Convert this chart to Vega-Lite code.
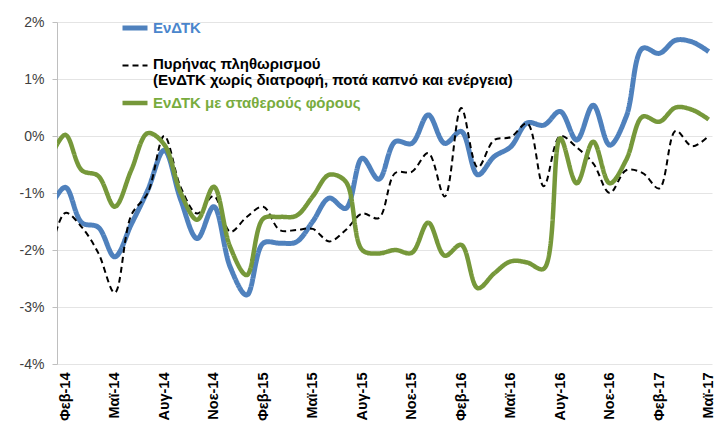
{
  "$schema": "https://vega.github.io/schema/vega-lite/v6.json",
  "width": 655,
  "height": 342,
  "autosize": {"type": "none"},
  "padding": {"left": 57, "top": 22, "right": 8, "bottom": 59},
  "background": "white",
  "config": {
    "view": {"stroke": null},
    "font": "Liberation Sans"
  },
  "data": {
    "values": [
      {"i": -1, "ΕνΔΤΚ": -1.3, "Πυρήνας πληθωρισμού": -2.2, "ΕνΔΤΚ με σταθερούς φόρους": -0.45},
      {"i": 0, "ΕνΔΤΚ": -0.9, "Πυρήνας πληθωρισμού": -1.35, "ΕνΔΤΚ με σταθερούς φόρους": 0.02},
      {"i": 1, "ΕνΔΤΚ": -1.52, "Πυρήνας πληθωρισμού": -1.6, "ΕνΔΤΚ με σταθερούς φόρους": -0.6},
      {"i": 2, "ΕνΔΤΚ": -1.6, "Πυρήνας πληθωρισμού": -2.05, "ΕνΔΤΚ με σταθερούς φόρους": -0.7},
      {"i": 3, "ΕνΔΤΚ": -2.12, "Πυρήνας πληθωρισμού": -2.75, "ΕνΔΤΚ με σταθερούς φόρους": -1.24},
      {"i": 4, "ΕνΔΤΚ": -1.55, "Πυρήνας πληθωρισμού": -1.39, "ΕνΔΤΚ με σταθερούς φόρους": -0.6},
      {"i": 5, "ΕνΔΤΚ": -0.95, "Πυρήνας πληθωρισμού": -1.0, "ΕνΔΤΚ με σταθερούς φόρους": 0.05},
      {"i": 6, "ΕνΔΤΚ": -0.25, "Πυρήνας πληθωρισμού": 0.0, "ΕνΔΤΚ με σταθερούς φόρους": -0.15},
      {"i": 7, "ΕνΔΤΚ": -1.12, "Πυρήνας πληθωρισμού": -0.9, "ΕνΔΤΚ με σταθερούς φόρους": -1.0},
      {"i": 8, "ΕνΔΤΚ": -1.8, "Πυρήνας πληθωρισμού": -1.36, "ΕνΔΤΚ με σταθερούς φόρους": -1.47},
      {"i": 9, "ΕνΔΤΚ": -1.24, "Πυρήνας πληθωρισμού": -1.05, "ΕνΔΤΚ με σταθερούς φόρους": -0.89},
      {"i": 10, "ΕνΔΤΚ": -2.3, "Πυρήνας πληθωρισμού": -1.68, "ΕνΔΤΚ με σταθερούς φόρους": -1.95},
      {"i": 11, "ΕνΔΤΚ": -2.79, "Πυρήνας πληθωρισμού": -1.42, "ΕνΔΤΚ με σταθερούς φόρους": -2.44},
      {"i": 12, "ΕνΔΤΚ": -1.88, "Πυρήνας πληθωρισμού": -1.24, "ΕνΔΤΚ με σταθερούς φόρους": -1.45},
      {"i": 13, "ΕνΔΤΚ": -1.88, "Πυρήνας πληθωρισμού": -1.65, "ΕνΔΤΚ με σταθερούς φόρους": -1.42},
      {"i": 14, "ΕνΔΤΚ": -1.86, "Πυρήνας πληθωρισμού": -1.65, "ΕνΔΤΚ με σταθερούς φόρους": -1.4},
      {"i": 15, "ΕνΔΤΚ": -1.5, "Πυρήνας πληθωρισμού": -1.63, "ΕνΔΤΚ με σταθερούς φόρους": -1.06},
      {"i": 16, "ΕνΔΤΚ": -1.09, "Πυρήνας πληθωρισμού": -1.85, "ΕνΔΤΚ με σταθερούς φόρους": -0.68},
      {"i": 17, "ΕνΔΤΚ": -1.27, "Πυρήνας πληθωρισμού": -1.65, "ΕνΔΤΚ με σταθερούς φόρους": -0.8},
      {"i": 18, "ΕνΔΤΚ": -0.39, "Πυρήνας πληθωρισμού": -1.36, "ΕνΔΤΚ με σταθερούς φόρους": -2.0},
      {"i": 19, "ΕνΔΤΚ": -0.76, "Πυρήνας πληθωρισμού": -1.44, "ΕνΔΤΚ με σταθερούς φόρους": -2.06},
      {"i": 20, "ΕνΔΤΚ": -0.1, "Πυρήνας πληθωρισμού": -0.65, "ΕνΔΤΚ με σταθερούς φόρους": -2.0},
      {"i": 21, "ΕνΔΤΚ": -0.13, "Πυρήνας πληθωρισμού": -0.63, "ΕνΔΤΚ με σταθερούς φόρους": -2.05},
      {"i": 22, "ΕνΔΤΚ": 0.37, "Πυρήνας πληθωρισμού": -0.3, "ΕνΔΤΚ με σταθερούς φόρους": -1.52},
      {"i": 23, "ΕνΔΤΚ": -0.13, "Πυρήνας πληθωρισμού": -1.06, "ΕνΔΤΚ με σταθερούς φόρους": -2.1},
      {"i": 24, "ΕνΔΤΚ": 0.08, "Πυρήνας πληθωρισμού": 0.49, "ΕνΔΤΚ με σταθερούς φόρους": -1.91},
      {"i": 25, "ΕνΔΤΚ": -0.68, "Πυρήνας πληθωρισμού": -0.55, "ΕνΔΤΚ με σταθερούς φόρους": -2.67},
      {"i": 26, "ΕνΔΤΚ": -0.36, "Πυρήνας πληθωρισμού": -0.07, "ΕνΔΤΚ με σταθερούς φόρους": -2.41},
      {"i": 27, "ΕνΔΤΚ": -0.19, "Πυρήνας πληθωρισμού": -0.02, "ΕνΔΤΚ με σταθερούς φόρους": -2.2},
      {"i": 28, "ΕνΔΤΚ": 0.23, "Πυρήνας πληθωρισμού": 0.22, "ΕνΔΤΚ με σταθερούς φόρους": -2.22},
      {"i": 29, "ΕνΔΤΚ": 0.19, "Πυρήνας πληθωρισμού": -0.88, "ΕνΔΤΚ με σταθερούς φόρους": -2.33},
      {"i": 30, "ΕνΔΤΚ": 0.43, "Πυρήνας πληθωρισμού": 0.0, "ΕνΔΤΚ με σταθερούς φόρους": -0.04},
      {"i": 31, "ΕνΔΤΚ": -0.07, "Πυρήνας πληθωρισμού": -0.2, "ΕνΔΤΚ με σταθερούς φόρους": -0.83},
      {"i": 32, "ΕνΔΤΚ": 0.54, "Πυρήνας πληθωρισμού": -0.48, "ΕνΔΤΚ με σταθερούς φόρους": -0.1},
      {"i": 33, "ΕνΔΤΚ": -0.16, "Πυρήνας πληθωρισμού": -1.0, "ΕνΔΤΚ με σταθερούς φόρους": -0.83},
      {"i": 34, "ΕνΔΤΚ": 0.34, "Πυρήνας πληθωρισμού": -0.6, "ΕνΔΤΚ με σταθερούς φόρους": -0.42},
      {"i": 35, "ΕνΔΤΚ": 1.54, "Πυρήνας πληθωρισμού": -0.65, "ΕνΔΤΚ με σταθερούς φόρους": 0.34},
      {"i": 36, "ΕνΔΤΚ": 1.45, "Πυρήνας πληθωρισμού": -0.92, "ΕνΔΤΚ με σταθερούς φόρους": 0.25},
      {"i": 37, "ΕνΔΤΚ": 1.68, "Πυρήνας πληθωρισμού": 0.09, "ΕνΔΤΚ με σταθερούς φόρους": 0.5},
      {"i": 38, "ΕνΔΤΚ": 1.65, "Πυρήνας πληθωρισμού": -0.18, "ΕνΔΤΚ με σταθερούς φόρους": 0.46},
      {"i": 39, "ΕνΔΤΚ": 1.48, "Πυρήνας πληθωρισμού": 0.0, "ΕνΔΤΚ με σταθερούς φόρους": 0.29}
    ]
  },
  "encoding": {
    "x": {
      "field": "i",
      "type": "quantitative",
      "scale": {"domain": [-0.5, 39.2], "nice": false, "zero": false},
      "axis": {
        "title": null,
        "values": [0, 3, 6, 9, 12, 15, 18, 21, 24, 27, 30, 33, 36, 39],
        "labelExpr": "['Φεβ','Μαϊ','Αυγ','Νοε'][(datum.value/3)%4] + '-' + (14 + floor((datum.value+1)/12))",
        "labelAngle": 270,
        "labelAlign": "right",
        "labelBaseline": "middle",
        "labelFontWeight": "bold",
        "labelFontSize": 14.5,
        "labelColor": "#000000",
        "labelPadding": 8,
        "ticks": false,
        "domain": false,
        "grid": false
      }
    },
    "y": {
      "type": "quantitative",
      "scale": {"domain": [-4, 2], "nice": false},
      "axis": {
        "title": null,
        "values": [-4, -3, -2, -1, 0, 1, 2],
        "labelExpr": "datum.value + '%'",
        "labelFontSize": 14,
        "labelColor": "#404040",
        "labelPadding": 8,
        "tickSize": 5,
        "tickColor": "#BFBFBF",
        "domainColor": "#BFBFBF",
        "gridColor": "#E4E4E4",
        "grid": true
      }
    }
  },
  "layer": [
    {
      "mark": {"type": "rule", "color": "#8C8C8C", "strokeWidth": 1.5},
      "encoding": {"y": {"datum": 0}}
    },
    {
      "transform": [
        {"fold": ["ΕνΔΤΚ", "Πυρήνας πληθωρισμού", "ΕνΔΤΚ με σταθερούς φόρους"], "as": ["s", "v"]}
      ],
      "mark": {"type": "line", "interpolate": "catmull-rom", "clip": true, "strokeCap": "butt", "strokeJoin": "round"},
      "encoding": {
        "y": {"field": "v", "type": "quantitative"},
        "color": {
          "field": "s",
          "type": "nominal",
          "scale": {"domain": ["ΕνΔΤΚ", "Πυρήνας πληθωρισμού", "ΕνΔΤΚ με σταθερούς φόρους"], "range": ["#4F81BD", "#000000", "#76983A"]},
          "legend": {
            "title": null,
            "orient": "none",
            "legendX": 63,
            "legendY": -9,
            "padding": 0,
            "symbolType": "stroke",
            "symbolSize": 625,
            "labelFontSize": 15,
            "labelFontWeight": "bold",
            "labelOffset": 3,
            "labelLimit": 600,
            "rowPadding": -19,
            "labelExpr": "datum.label == 'Πυρήνας πληθωρισμού' ? ['Πυρήνας πληθωρισμού', '(ΕνΔΤΚ χωρίς διατροφή, ποτά καπνό και ενέργεια)'] : datum.label == 'ΕνΔΤΚ' ? ['ΕνΔΤΚ', ''] : datum.label",
            "encode": {"labels": {
              "enter": {"lineHeight": {"value": 16}},
              "update": {
                "lineHeight": {"value": 16},
                "dy": {"signal": "datum.value == 'Πυρήνας πληθωρισμού' ? -2 : 0"},
                "fill": {"signal": "datum.value == 'ΕνΔΤΚ' ? '#4A86CC' : datum.value == 'ΕνΔΤΚ με σταθερούς φόρους' ? '#78AC3E' : '#000000'"}
              }
            }}
          }
        },
        "strokeDash": {
          "field": "s",
          "type": "nominal",
          "scale": {"domain": ["ΕνΔΤΚ", "Πυρήνας πληθωρισμού", "ΕνΔΤΚ με σταθερούς φόρους"], "range": [[1, 0], [6, 4], [1, 0]]},
          "legend": null
        },
        "strokeWidth": {
          "field": "s",
          "type": "nominal",
          "scale": {"type": "ordinal", "domain": ["ΕνΔΤΚ", "Πυρήνας πληθωρισμού", "ΕνΔΤΚ με σταθερούς φόρους"], "range": [5, 2, 4.5]},
          "legend": null
        }
      }
    }
  ]
}
